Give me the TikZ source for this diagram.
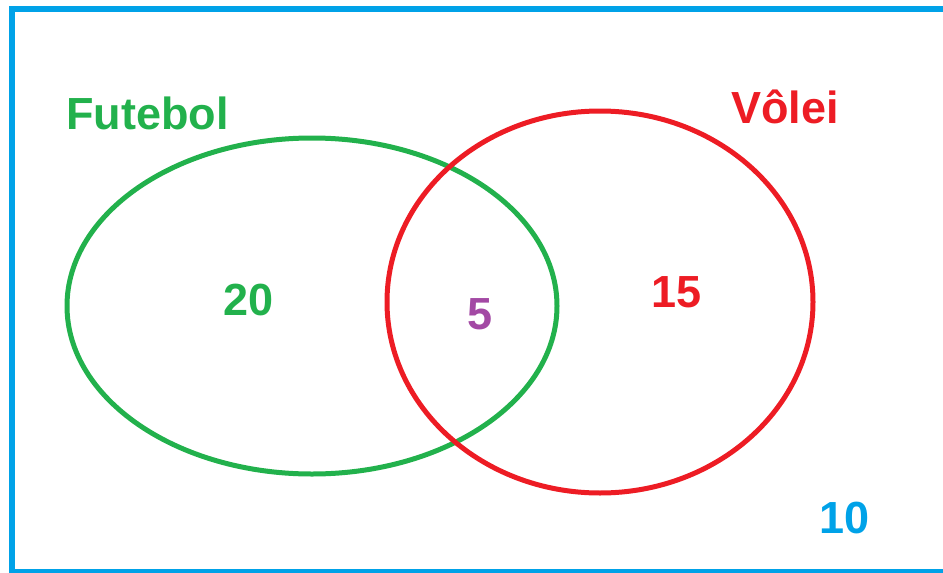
\documentclass[tikz,border=0pt]{standalone}
\usepackage{fontspec}
\setmainfont{Liberation Sans}
\definecolor{futgreen}{RGB}{34,177,76}
\definecolor{volred}{RGB}{237,28,36}
\definecolor{frameblue}{RGB}{0,162,232}
\definecolor{bothpurple}{RGB}{163,73,164}
\tikzset{
  setlabel/.style={anchor=base, inner sep=0pt, font=\fontsize{45}{54}\selectfont\bfseries},
  count/.style={anchor=base, inner sep=0pt, font=\fontsize{45}{54}\selectfont\bfseries},
  setline/.style={line width=5pt}
}
\begin{document}
\begin{tikzpicture}[x=1pt, y=-1pt]
  \useasboundingbox (0,0) rectangle (943,573);
  \begin{scope}
    \clip (0,0) rectangle (943,573);
    % universe frame
    \draw[frameblue, line width=6pt] (12,9) rectangle (960,572);
  \end{scope}
  % sets
  \draw[setline, futgreen] (312,306) ellipse [x radius=245, y radius=168];
  \draw[setline, volred] (600,302) ellipse [x radius=213, y radius=191];
  % set names
  \node[setlabel, text=futgreen] (fut) at (147.5,129) {Futebol};
  \node[setlabel, text=volred] (vol) at (785,123) {Vôlei};
  % counts
  \node[count, text=futgreen] (onlyfut) at (248.5,315) {20};
  \node[count, text=bothpurple] (both) at (480,329) {5};
  \node[count, text=volred] (onlyvol) at (677,307) {15};
  \node[count, text=frameblue] (neither) at (844.5,533) {10};
\end{tikzpicture}
\end{document}
